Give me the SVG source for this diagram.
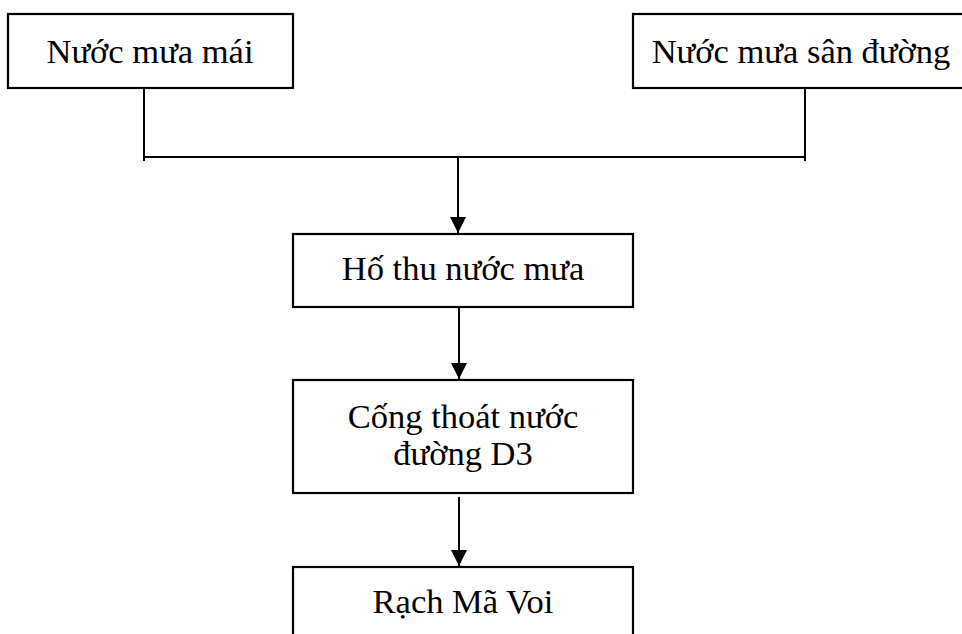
<svg xmlns="http://www.w3.org/2000/svg" width="962" height="634" viewBox="0 0 962 634">
<style>
.box{fill:#fff;stroke:#000;stroke-width:2.2}
.t{font-family:"Liberation Serif","Times New Roman",serif;font-size:34.5px;fill:#000;text-anchor:middle}
.ln{fill:none;stroke:#000;stroke-width:2}
</style>
<defs>
<marker id="ah" markerWidth="8" markerHeight="8" refX="8" refY="4" orient="auto" markerUnits="strokeWidth">
<path d="M0,0 L8,4 L0,8 Z" fill="#000"/>
</marker>
</defs>
<rect width="962" height="634" fill="#fff"/>
<g id="n1"><rect class="box" x="8" y="14" width="285" height="74"/><text class="t" x="150" y="63">Nước mưa mái</text></g>
<g id="n2"><rect class="box" x="633" y="14" width="340" height="74"/><text class="t" x="801" y="63">Nước mưa sân đường</text></g>
<g id="n3"><rect class="box" x="293" y="234" width="340" height="73"/><text class="t" x="463" y="280">Hố thu nước mưa</text></g>
<g id="n4"><rect class="box" x="293" y="380" width="340" height="113"/><text class="t" x="463" y="428">Cống thoát nước</text><text class="t" x="463" y="465">đường D3</text></g>
<g id="n5"><rect class="box" x="293" y="567" width="340" height="80"/><text class="t" x="463" y="613">Rạch Mã Voi</text></g>
<g id="connectors">
<line class="ln" x1="144" y1="88" x2="144" y2="161"/>
<line class="ln" x1="805" y1="88" x2="805" y2="161"/>
<line class="ln" x1="144" y1="157" x2="805" y2="157"/>
<line class="ln" x1="458" y1="157" x2="458" y2="233" marker-end="url(#ah)"/>
<line class="ln" x1="459" y1="307" x2="459" y2="379" marker-end="url(#ah)"/>
<line class="ln" x1="459" y1="497" x2="459" y2="566" marker-end="url(#ah)"/>
</g>
</svg>
